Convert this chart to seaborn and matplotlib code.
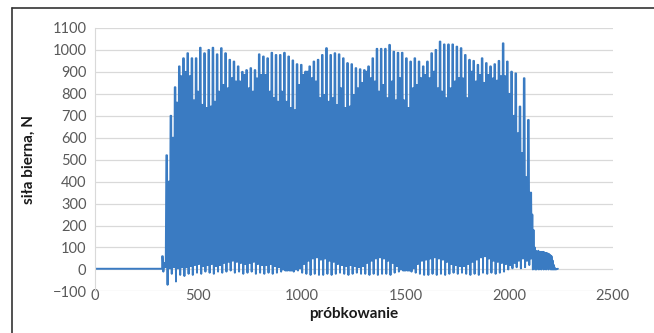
import numpy as np
import pandas as pd
from matplotlib import pyplot as plt
from matplotlib.lines import Line2D
import seaborn as sns

# --- data ----------------------------------------------------------------
# sample index where the oscillation begins, spacing between samples
START = 325
STEP = 2.9

# one value per stroke cycle: top of the spike
peaks = [60, 520, 700, 830,
         925, 962, 985, 962, 962, 1010, 985, 1000, 1010, 980, 1008, 985, 955, 947, 925, 900, 908, 917, 908, 980,
         970, 962, 987, 977, 977, 987, 970, 952, 935, 932, 901, 925, 947, 955, 977, 1008, 977, 985, 980, 962, 940, 935, 917, 912,
         908, 925, 962, 1005, 1005, 1005, 1023, 992, 987, 987, 962, 947, 962, 947, 925, 947, 985, 1000, 1038, 1025, 1025, 1025, 1015, 1008,
         977, 955, 950, 932, 962, 940, 925, 935, 950, 1030, 947, 901, 893, 742, 871, 681, 507, 492]
# level down to which the block is solid (bottom of the white notches)
notches = [30, 400, 600, 760,
           880, 900, 880, 770, 810, 750, 735, 742, 764, 810, 840, 825, 871, 856, 856, 886, 825, 810, 870, 886,
           886, 810, 780, 764, 810, 764, 735, 725, 840, 886, 901, 871, 856, 780, 795, 764, 780, 749, 825, 735, 742, 795, 825, 850,
           901, 871, 856, 810, 840, 780, 856, 770, 871, 770, 735, 825, 840, 871, 886, 871, 901, 825, 810, 780, 825, 856, 871, 870,
           780, 901, 856, 886, 850, 886, 870, 860, 880, 880, 800, 700, 620, 530, 420, 350]
# deepest point of each cycle
troughs = [-10, -70, -20, -55,
           -25, -30, -20, -25, -15, -20, -10, -15, -20, -10, -15, -10, -5, -15, -10, -20, -15, -10, -20, -15,
           -20, -15, -20, -15, -10, -5, -5, -10, -5, -15, -20, -25, -20, -25, -25, -20, -25, -20, -15, -20, -25, -20, -15, -20,
           -20, -25, -20, -25, -20, -20, -25, -15, -10, -5, -5, -10, -15, -20, -25, -25, -20, -25, -20, -25, -20, -15, -20, -15,
           -20, -25, -20, -25, -15, -20, -15, -20, -15, -10, 0, 5, 10, 5, 10, 20, 30]
# bottom of the solid band
bases = [10, 5, 10, 5,
         10, 10, 15, 20, 25, 15, 20, 25, 15, 20, 30, 35, 40, 35, 30, 25, 30, 35, 25, 20,
         20, 25, 15, 10, 0, -5, -5, 0, 5, 25, 40, 50, 55, 45, 50, 40, 35, 25, 20, 15, 20, 15, 10, 15,
         30, 40, 50, 55, 50, 40, 30, 15, 0, -5, -5, 5, 25, 40, 45, 50, 55, 50, 45, 35, 25, 20, 15, 15,
         25, 35, 45, 55, 60, 50, 40, 35, 30, 25, 20, 30, 40, 50, 40, 50, 70]
# after the block: the drop and the small tail
tail = [250, 0, 180, 10, 100, 0, 85, 0, 80, 5, 85, 0, 80, 5, 80, 0, 80, 5, 80, 0,
        78, 5, 75, 0, 75, 5, 72, 0, 70, 5, 65, 0, 60, 0, 40, 0, 20, 0, 5, 0]
lead_x = [0, START]
lead_y = [3, 3]
end_x = 2235
end_y = 3

# --- build the series ------------------------------------------------------
vals = []
for p, n, t, b in zip(peaks, notches, troughs, bases):
    vals += [p, p, t, n, b, n, b]
vals += tail
idx = START + np.arange(len(vals)) * STEP
x = np.concatenate([lead_x, idx, [end_x]])
y = np.concatenate([lead_y, vals, [end_y]])
df = pd.DataFrame({"probka": x, "sila": y})

# --- plot ------------------------------------------------------------------
sns.set_style("whitegrid")
plt.rcParams['font.family'] = ['Lato', 'DejaVu Sans']

fig = plt.figure(figsize=(6.54, 3.33), dpi=100)
ax = fig.add_axes([0.145, 0.125, 0.792, 0.791])
sns.lineplot(data=df, x="probka", y="sila", ax=ax, color="#3a7bc2", linewidth=1.4,
             estimator=None, sort=False)

ax.set_xlim(0, 2500)
ax.set_ylim(-100, 1100)
ax.set_xticks(range(0, 2501, 500))
ax.set_yticks(range(-100, 1101, 100))
ax.grid(axis="x", visible=False)
ax.grid(axis="y", color="#d9d9d9", linewidth=0.9)
for s in ["top", "right", "bottom"]:
    ax.spines[s].set_visible(False)
ax.spines["left"].set_color("#d9d9d9")
ax.tick_params(axis="both", labelsize=10.5, labelcolor="#595959", length=0)
ax.tick_params(axis="x", pad=-2)
ax.tick_params(axis="y", pad=6)
ax.set_xlabel("próbkowanie", fontsize=11, fontweight="bold", color="#1a1a1a", labelpad=3)
ax.set_ylabel("siła bierna, N", fontsize=11, fontweight="bold", color="#1a1a1a", labelpad=12)

# frame of the original figure (only left and top edge visible)
fig.add_artist(Line2D([0.019, 0.019], [0, 0.975], transform=fig.transFigure, color="#333333", lw=1.2))
fig.add_artist(Line2D([0.019, 1.0], [0.975, 0.975], transform=fig.transFigure, color="#333333", lw=1.2))

fig.savefig("out.png", dpi=100)
